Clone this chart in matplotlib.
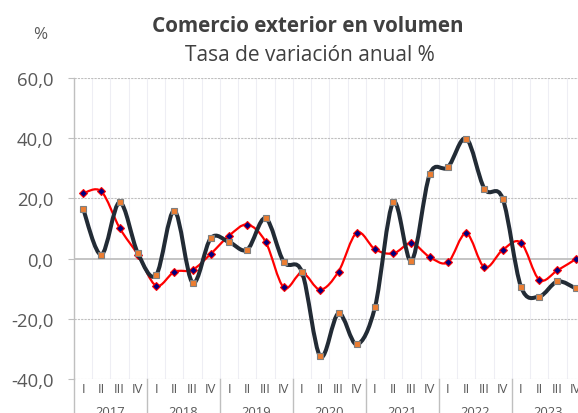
import matplotlib
matplotlib.use('Agg')
import matplotlib.pyplot as plt
from matplotlib.path import Path
from matplotlib.patches import PathPatch
import matplotlib.transforms as mtransforms

plt.rcParams['font.family'] = ['Open Sans', 'DejaVu Sans']

# quarterly data 2017 I - 2023 IV
years = ['2017', '2018', '2019', '2020', '2021', '2022', '2023']
quarters = ['I', 'II', 'III', 'IV']
serie_oscura = [16.5, 1.3, 18.7, 1.8, -5.5, 15.9, -8.0, 6.8,
                5.5, 3.0, 13.4, -1.1, -4.5, -32.5, -18.2, -28.5,
                -16.1, 18.7, -0.7, 28.0, 30.4, 39.9, 23.2, 19.9,
                -9.3, -12.6, -7.6, -9.9]
serie_roja = [21.7, 22.3, 10.2, 1.3, -9.0, -4.4, -3.7, 1.6,
              7.6, 11.3, 5.6, -9.6, -4.7, -10.3, -4.3, 8.6,
              3.1, 1.7, 5.1, 0.5, -1.2, 8.4, -2.9, 2.9,
              5.3, -7.0, -3.9, -0.2]
yticks = [-40, -20, 0, 20, 40, 60]


def smooth_path(xs, ys):
    # bezier path like excel "smoothed line"
    n = len(xs)
    verts = [(xs[0], ys[0])]
    codes = [Path.MOVETO]
    for i in range(n - 1):
        x0, y0 = xs[max(i - 1, 0)], ys[max(i - 1, 0)]
        x1, y1 = xs[i], ys[i]
        x2, y2 = xs[i + 1], ys[i + 1]
        x3, y3 = xs[min(i + 2, n - 1)], ys[min(i + 2, n - 1)]
        c1 = (x1 + (x2 - x0) / 6, y1 + (y2 - y0) / 6)
        c2 = (x2 - (x3 - x1) / 6, y2 - (y3 - y1) / 6)
        verts += [c1, c2, (x2, y2)]
        codes += [Path.CURVE4] * 3
    return Path(verts, codes)


x = list(range(len(serie_oscura)))
labels = [q for y in years for q in quarters]

fig = plt.figure(figsize=(5.78, 4.14), dpi=100)
ax = fig.add_axes([74 / 578, 1 - 380 / 414, 510.8 / 578, 301 / 414])

grid_col = '#bfbfbf'
for v in yticks:
    if v == 0:
        ax.axhline(v, color=grid_col, lw=1.3, zorder=1)
    else:
        ax.axhline(v, color=grid_col, lw=0.8, ls=(0, (2, 1)), zorder=1)
for k in range(len(x)):
    ax.axvline(k - 0.5, color='#eeeef4', lw=0.8, zorder=0)

ax.add_patch(PathPatch(smooth_path(x, serie_roja), fill=False,
                       edgecolor='#ff0000', lw=1.6, zorder=3))
ax.plot(x, serie_roja, ls='none', marker='D', ms=4.5, mfc='#00007f',
        mec='#ff0000', mew=0.8, zorder=4)
ax.add_patch(PathPatch(smooth_path(x, serie_oscura), fill=False,
                       edgecolor='#222b35', lw=2.9, zorder=5,
                       capstyle='round', joinstyle='round'))
ax.plot(x, serie_oscura, ls='none', marker='s', ms=4.5, mfc='#ed7d31',
        mec='#7f7f7f', mew=0.8, zorder=6)

ax.set_xlim(-0.5, len(x) - 0.5)
ax.set_ylim(-40, 60)
ax.set_yticks(yticks)
ax.set_yticklabels([f'{v:.1f}'.replace('.', ',') for v in yticks])
ax.set_xticks(x)
ax.set_xticklabels(labels)
ax.tick_params(axis='y', length=4.3, color=grid_col, pad=10.5,
               labelsize=13.3, labelcolor='#595959', width=0.8)
ax.tick_params(axis='x', length=0, pad=2, labelsize=9.4,
               labelcolor='#595959')
for s in ['top', 'right', 'bottom']:
    ax.spines[s].set_visible(False)
ax.spines['left'].set_color(grid_col)
ax.spines['left'].set_linewidth(1.0)

# year separators and year labels below the quarters
trans = mtransforms.blended_transform_factory(ax.transData, ax.transAxes)
for b in [-0.5] + [4 * i + 3.5 for i in range(len(years))]:
    ax.plot([b, b], [0, -0.2], color=grid_col, lw=1.0, transform=trans,
            clip_on=False)
for i, yr in enumerate(years):
    ax.text(4 * i + 1.5, -0.0877, yr, transform=trans, ha='center', va='top',
            fontsize=9.4, color='#595959')

fig.text(308 / 578, 1 - 32.3 / 414, 'Comercio exterior en volumen',
         ha='center', va='baseline', fontsize=14.9, fontweight='bold',
         color='#404040')
fig.text(310 / 578, 1 - 61 / 414, 'Tasa de variación anual %',
         ha='center', va='baseline', fontsize=15, color='#404040')
fig.text(40 / 578, 1 - 35 / 414, '%', ha='center', va='center',
         fontsize=12.3, color='#595959')

fig.savefig('out.png', dpi=100)
